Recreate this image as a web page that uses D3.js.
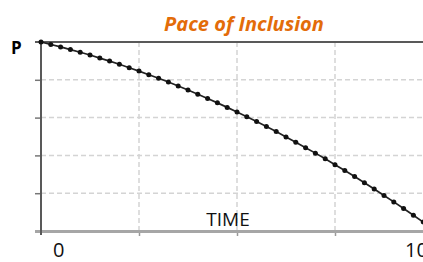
<!DOCTYPE html>
<html>
<head>
<meta charset="utf-8">
<script src="https://cdn.jsdelivr.net/npm/d3@7"></script>
<style>
  body { margin: 0; background: #fff; }
  svg { display: block; }
</style>
</head>
<body>
<div id="chart"></div>
<script>
// data (time 0..100, P 100..0)
var timeVals = [0, 2.5, 5, 7.5, 10, 12.5, 15, 17.5, 20, 22.5, 25, 27.5, 30, 32.5, 35, 37.5,
  40, 42.5, 45, 47.5, 50, 52.5, 55, 57.5, 60, 62.5, 65, 67.5, 70, 72.5, 75, 77.5,
  80, 82.5, 85, 87.5, 90, 92.5, 95, 97.5];
var pVals = [100, 98.7, 97.4, 96.0, 94.6, 93.1, 91.5, 89.9, 88.2, 86.4, 84.6, 82.7, 80.8, 78.8, 76.7, 74.6,
  72.4, 70.1, 67.8, 65.4, 63.0, 60.5, 57.9, 55.3, 52.6, 49.8, 47.0, 44.1, 41.2, 38.2, 35.1, 32.0,
  28.8, 25.5, 22.2, 18.8, 15.4, 11.9, 8.3, 4.7];
var xGridVals = [25, 50, 75];
var yGridVals = [20, 40, 60, 80];
var xTickLabels = [0, 100];

var width = 423, height = 262;
var margin = {top: 42, right: -10, bottom: 31, left: 41};

var svg = d3.select('#chart').append('svg')
    .attr('width', width)
    .attr('height', height);

var x = d3.scaleLinear().domain([0, 100]).range([margin.left, width - margin.right]);
var y = d3.scaleLinear().domain([0, 100]).range([height - margin.bottom, margin.top]);

// gridlines
svg.append('g').selectAll('line.vg')
    .data(xGridVals).enter().append('line')
    .attr('x1', function(d) { return x(d); })
    .attr('x2', function(d) { return x(d); })
    .attr('y1', y(100)).attr('y2', y(0))
    .attr('stroke', '#d4d4d4').attr('stroke-width', 1.5)
    .attr('stroke-dasharray', '5,3');

svg.append('g').selectAll('line.hg')
    .data(yGridVals).enter().append('line')
    .attr('x1', x(0)).attr('x2', width)
    .attr('y1', function(d) { return y(d); })
    .attr('y2', function(d) { return y(d); })
    .attr('stroke', '#d4d4d4').attr('stroke-width', 1.5)
    .attr('stroke-dasharray', '5,3');

// axes (ticks only, no labels)
var yAxis = d3.axisLeft(y).tickValues(yGridVals).tickSize(6).tickFormat('');
svg.append('g')
    .attr('transform', 'translate(' + x(0) + ',0)')
    .call(yAxis)
    .call(function(g) {
        g.select('.domain').remove();
        g.selectAll('line').attr('stroke', '#777').attr('stroke-width', 1.5);
    });

var xAxis = d3.axisBottom(x).tickValues(xGridVals).tickSize(5).tickFormat('');
svg.append('g')
    .attr('transform', 'translate(0,' + y(0) + ')')
    .call(xAxis)
    .call(function(g) {
        g.select('.domain').remove();
        g.selectAll('line').attr('stroke', '#999').attr('stroke-width', 1.5);
    });

// bottom axis line
svg.append('line')
    .attr('x1', x(0) - 6).attr('x2', width)
    .attr('y1', y(0) + 0.5).attr('y2', y(0) + 0.5)
    .attr('stroke', '#a6a6a6').attr('stroke-width', 3);

// top border
svg.append('line')
    .attr('x1', x(0) - 6).attr('x2', width)
    .attr('y1', y(100)).attr('y2', y(100))
    .attr('stroke', '#595959').attr('stroke-width', 2);

// left axis line
svg.append('line')
    .attr('x1', x(0)).attr('x2', x(0))
    .attr('y1', y(100)).attr('y2', y(0) + 4)
    .attr('stroke', '#595959').attr('stroke-width', 2);

// curve
var pts = timeVals.map(function(t, i) { return [t, pVals[i]]; });
var line = d3.line()
    .x(function(d) { return x(d[0]); })
    .y(function(d) { return y(d[1]); });

svg.append('path')
    .datum(pts)
    .attr('d', line)
    .attr('fill', 'none')
    .attr('stroke', '#222')
    .attr('stroke-width', 1.7);

svg.append('g').selectAll('circle')
    .data(pts).enter().append('circle')
    .attr('cx', function(d) { return x(d[0]); })
    .attr('cy', function(d) { return y(d[1]); })
    .attr('r', 2.5)
    .attr('fill', '#111');

// texts
svg.append('text')
    .attr('x', 244).attr('y', 31)
    .attr('text-anchor', 'middle')
    .attr('font-family', '"Open Sans", sans-serif')
    .attr('font-size', 20)
    .attr('font-weight', 'bold')
    .attr('font-style', 'italic')
    .attr('fill', '#e36c09')
    .text('Pace of Inclusion');

svg.append('text')
    .attr('x', 11).attr('y', 54)
    .attr('font-family', '"Open Sans", sans-serif')
    .attr('font-size', 17)
    .attr('font-weight', 'bold')
    .attr('fill', '#000')
    .text('P');

svg.append('text')
    .attr('x', 228).attr('y', 226)
    .attr('text-anchor', 'middle')
    .attr('font-family', '"Open Sans", sans-serif')
    .attr('font-size', 19)
    .attr('fill', '#111')
    .text('TIME');

svg.append('g').selectAll('text')
    .data(xTickLabels).enter().append('text')
    .attr('x', function(d) { return d === 0 ? x(d) + 12 : x(d) - 28; })
    .attr('y', 257)
    .attr('font-family', '"Open Sans", sans-serif')
    .attr('font-size', 20)
    .attr('fill', '#111')
    .text(function(d) { return d; });
</script>
</body>
</html>
